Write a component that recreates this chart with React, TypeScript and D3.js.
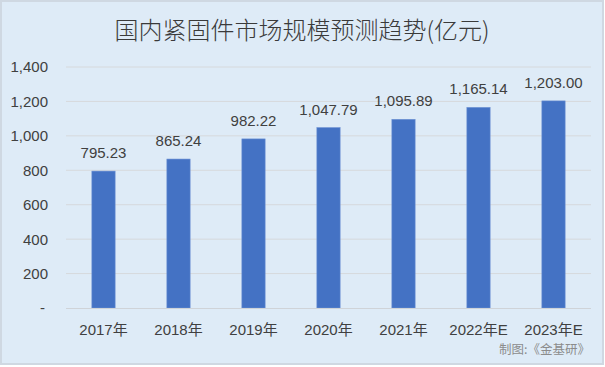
import { useEffect, useRef } from "react";
import * as d3 from "d3";

const categories = ["2017年", "2018年", "2019年", "2020年", "2021年", "2022年E", "2023年E"];
const values = [795.23, 865.24, 982.22, 1047.79, 1095.89, 1165.14, 1203.0];
const yTicks = [0, 200, 400, 600, 800, 1000, 1200, 1400];

const W = 605;
const H = 367;

export default function App() {
  const svgRef = useRef<SVGSVGElement>(null);

  useEffect(() => {
    if (!svgRef.current) return;
    const svg = d3.select(svgRef.current);
    svg.selectAll("*").remove();

    const font = "'Liberation Sans', Arial, 'Noto Sans CJK SC', sans-serif";
    const cjk = "'Noto Sans CJK SC', 'Liberation Sans', sans-serif";
    const margin = { top: 67, right: 14, bottom: 59, left: 66 };

    // background + frame
    svg
      .append("rect")
      .attr("x", 1)
      .attr("y", 1)
      .attr("width", W - 3)
      .attr("height", H - 4)
      .attr("fill", "#deebf7")
      .attr("stroke", "#cfd8e2")
      .attr("stroke-width", 2);

    const x = d3
      .scaleBand<string>()
      .domain(categories)
      .range([margin.left, W - margin.right])
      .paddingInner(0.69)
      .paddingOuter(0.345);

    const y = d3
      .scaleLinear()
      .domain([0, 1400])
      .range([H - margin.bottom, margin.top]);

    // title
    svg
      .append("text")
      .attr("x", 302)
      .attr("y", 39)
      .attr("text-anchor", "middle")
      .style("font-family", cjk)
      .style("font-size", "24px")
      .style("font-weight", "300")
      .style("fill", "#3a3a3a")
      .text("国内紧固件市场规模预测趋势(亿元)");

    // gridlines
    svg
      .append("g")
      .selectAll("line")
      .data(yTicks.filter((t) => t > 0))
      .enter()
      .append("line")
      .attr("x1", margin.left)
      .attr("x2", W - margin.right)
      .attr("y1", (d) => y(d))
      .attr("y2", (d) => y(d))
      .style("stroke", "#d6d9dc")
      .style("stroke-width", "1px");

    // y tick labels
    svg
      .append("g")
      .selectAll("text")
      .data(yTicks)
      .enter()
      .append("text")
      .attr("x", (d) => (d === 0 ? 45 : 48))
      .attr("y", (d) => y(d))
      .attr("dy", "0.36em")
      .attr("text-anchor", "end")
      .style("font-family", font)
      .style("font-size", "15px")
      .style("fill", "#404040")
      .text((d) => (d === 0 ? "-" : d3.format(",")(d)));

    // bars
    svg
      .append("g")
      .selectAll("rect")
      .data(values)
      .enter()
      .append("rect")
      .attr("x", (d, i) => x(categories[i])!)
      .attr("y", (d) => y(d))
      .attr("width", x.bandwidth())
      .attr("height", (d) => y(0) - y(d))
      .style("fill", "#4472c4")
      .style("stroke", "#6a8fd2")
      .style("stroke-width", "0.6px");

    // x axis line
    svg
      .append("line")
      .attr("x1", margin.left)
      .attr("x2", W - margin.right)
      .attr("y1", y(0) + 0.5)
      .attr("y2", y(0) + 0.5)
      .style("stroke", "#cfd3d8")
      .style("stroke-width", "1px");

    // value labels
    svg
      .append("g")
      .selectAll("text")
      .data(values)
      .enter()
      .append("text")
      .attr("x", (d, i) => x(categories[i])! + x.bandwidth() / 2)
      .attr("y", (d) => y(d) - 13)
      .attr("text-anchor", "middle")
      .style("font-family", font)
      .style("font-size", "15px")
      .style("fill", "#404040")
      .text((d) => d3.format(",.2f")(d));

    // category labels
    svg
      .append("g")
      .selectAll("text")
      .data(categories)
      .enter()
      .append("text")
      .attr("x", (d) => x(d)! + x.bandwidth() / 2)
      .attr("y", 335)
      .attr("text-anchor", "middle")
      .style("font-family", font)
      .style("font-size", "15px")
      .style("fill", "#404040")
      .text((d) => d);

    // source
    svg
      .append("text")
      .attr("x", 590)
      .attr("y", 354)
      .attr("text-anchor", "end")
      .style("font-family", cjk)
      .style("font-size", "12.5px")
      .style("fill", "#8c8c8c")
      .text("制图:《金基研》");
  }, []);

  return (
    <div style={{ position: "absolute", left: 0, top: 0 }}>
      <svg ref={svgRef} width={W} height={H} style={{ display: "block" }}></svg>
    </div>
  );
}
